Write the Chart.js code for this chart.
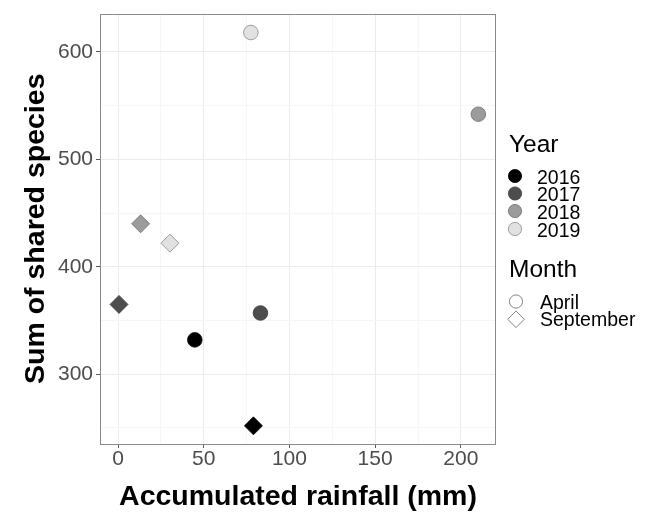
<!DOCTYPE html>
<html>
<head>
<meta charset="utf-8">
<script src="https://cdn.jsdelivr.net/npm/chart.js@4"></script>
<style>
html,body{margin:0;padding:0;background:#fff;}
#wrap{position:relative;width:646px;height:512px;}
canvas{display:block;}
</style>
</head>
<body>
<div id="wrap"><canvas id="c" width="646" height="512"></canvas></div>
<script>
// ---- data ----
const years = ['2016', '2017', '2018', '2019'];
const months = ['April', 'September'];
// April (circles), ordered by year 2016..2019
const aprilRainfall = [44.8, 83.1, 210.2, 77.5];
const aprilSpecies  = [332, 357, 542, 618];
// September (diamonds), ordered by year 2016..2019
const septRainfall  = [79.0, 0.6, 13.2, 30.3];
const septSpecies   = [252, 365, 440, 422];
// axis ticks
const xMajorTicks = [0, 50, 100, 150, 200];
const xMinorTicks = [25, 75, 125, 175];
const yMajorTicks = [300, 400, 500, 600];
const yMinorTicks = [250, 350, 450, 550];
const xTitle = 'Accumulated rainfall (mm)';
const yTitle = 'Sum of shared species';
const legendYearTitle = 'Year';
const legendMonthTitle = 'Month';

// ---- styles ----
const FONT = "'Liberation Sans', Arial, Helvetica, sans-serif";
const yearFill = ['#000000', '#4d4d4d', '#9b9b9b', '#e1e1e1'];
const yearStroke = ['#000000', '#3a3a3a', '#6e6e6e', '#8a8a8a'];

function toPoints(xs, ys) { return xs.map((x, i) => ({x: x, y: ys[i]})); }

const allTicks = (maj, min) => maj.concat(min).sort((a, b) => a - b).map(v => ({value: v}));

const borderPlugin = {
  id: 'panelBorder',
  beforeDatasetsDraw(chart) {
    const {ctx, chartArea: a} = chart;
    ctx.save();
    ctx.strokeStyle = '#8a8a8a';
    ctx.lineWidth = 1;
    ctx.strokeRect(Math.round(a.left) + 0.5, Math.round(a.top) + 0.5,
                   Math.round(a.right - a.left) - 1, Math.round(a.bottom - a.top) - 1);
    ctx.restore();
  }
};

const legendPlugin = {
  id: 'ggLegend',
  afterDraw(chart) {
    const ctx = chart.ctx;
    ctx.save();
    ctx.textAlign = 'left';
    ctx.textBaseline = 'alphabetic';
    ctx.fillStyle = '#000';
    ctx.font = '24.5px ' + FONT;
    ctx.fillText(legendYearTitle, 509, 152);
    const base = [183.5, 201, 218.5, 236.5];
    years.forEach((yr, i) => {
      const cy = base[i] - 7.5;
      ctx.beginPath();
      ctx.arc(515, cy, 6.6, 0, Math.PI * 2);
      ctx.fillStyle = yearFill[i];
      ctx.fill();
      ctx.lineWidth = 0.8;
      ctx.strokeStyle = yearStroke[i];
      ctx.stroke();
      ctx.fillStyle = '#000';
      ctx.font = '19.5px ' + FONT;
      ctx.fillText(yr, 537, base[i]);
    });
    ctx.font = '24.5px ' + FONT;
    ctx.fillText(legendMonthTitle, 509, 277);
    // April - open circle
    ctx.beginPath();
    ctx.arc(516, 301.5, 6.6, 0, Math.PI * 2);
    ctx.fillStyle = '#fff';
    ctx.fill();
    ctx.lineWidth = 0.9;
    ctx.strokeStyle = '#777';
    ctx.stroke();
    // September - open diamond
    ctx.beginPath();
    const dx = 516, dy = 319.3, r = 8.3;
    ctx.moveTo(dx - r, dy); ctx.lineTo(dx, dy - r); ctx.lineTo(dx + r, dy); ctx.lineTo(dx, dy + r); ctx.closePath();
    ctx.fill();
    ctx.stroke();
    ctx.fillStyle = '#000';
    ctx.font = '19.5px ' + FONT;
    ctx.fillText(months[0], 540, 308.5);
    ctx.fillText(months[1], 540, 325.5);
    ctx.restore();
  }
};

const gridColor = (majors) => (ctx) => {
  const v = ctx.tick ? ctx.tick.value : null;
  return majors.includes(v) ? '#ebebeb' : '#f6f6f6';
};
const tickColor = (majors) => (ctx) => {
  const v = ctx.tick ? ctx.tick.value : null;
  return majors.includes(v) ? '#5a5a5a' : 'rgba(0,0,0,0)';
};

new Chart(document.getElementById('c'), {
  type: 'scatter',
  data: {
    datasets: [
      {
        label: months[0],
        data: toPoints(aprilRainfall, aprilSpecies),
        pointStyle: 'circle',
        pointRadius: 7.3,
        backgroundColor: yearFill,
        borderColor: yearStroke,
        borderWidth: 0.8
      },
      {
        label: months[1],
        data: toPoints(septRainfall, septSpecies),
        pointStyle: 'rectRot',
        pointRadius: 9,
        backgroundColor: yearFill,
        borderColor: yearStroke,
        borderWidth: 0.8
      }
    ]
  },
  options: {
    responsive: false,
    animation: false,
    events: [],
    layout: {padding: {left: 0, top: 13, right: 150, bottom: 0}},
    plugins: {legend: {display: false}, tooltip: {enabled: false}},
    scales: {
      x: {
        type: 'linear',
        min: -10.5,
        max: 220.5,
        afterBuildTicks: (s) => { s.ticks = allTicks(xMajorTicks, xMinorTicks); },
        afterFit: (s) => { s.height = 68; },
        border: {display: false},
        grid: {color: gridColor(xMajorTicks), tickColor: tickColor(xMajorTicks), tickLength: 4, lineWidth: 1},
        ticks: {
          autoSkip: false,
          maxRotation: 0,
          padding: 1,
          color: '#4d4d4d',
          font: {family: FONT, size: 21, lineHeight: 1},
          callback: (v) => xMajorTicks.includes(v) ? String(v) : ''
        },
        title: {
          display: true,
          text: xTitle,
          color: '#000',
          font: {family: FONT, size: 28.5, weight: 'bold', lineHeight: 1},
          padding: {top: 0, bottom: 1}
        }
      },
      y: {
        type: 'linear',
        min: 235.1,
        max: 635.7,
        afterBuildTicks: (s) => { s.ticks = allTicks(yMajorTicks, yMinorTicks); },
        afterFit: (s) => { s.width = 100; },
        border: {display: false},
        grid: {color: gridColor(yMajorTicks), tickColor: tickColor(yMajorTicks), tickLength: 4, lineWidth: 1},
        ticks: {
          autoSkip: false,
          padding: 3,
          color: '#4d4d4d',
          font: {family: FONT, size: 21, lineHeight: 1},
          callback: (v) => yMajorTicks.includes(v) ? String(v) : ''
        },
        title: {
          display: true,
          text: yTitle,
          color: '#000',
          font: {family: FONT, size: 28.5, weight: 'bold', lineHeight: 1},
          padding: {top: 22, bottom: 0}
        }
      }
    }
  },
  plugins: [borderPlugin, legendPlugin]
});
</script>
</body>
</html>
